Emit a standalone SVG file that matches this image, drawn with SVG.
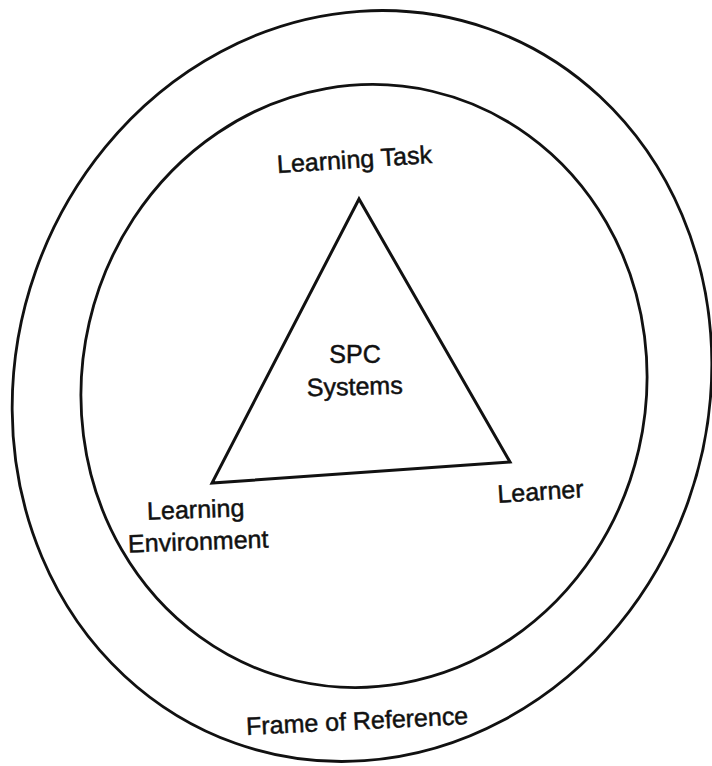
<svg xmlns="http://www.w3.org/2000/svg" width="712" height="766" viewBox="0 0 712 766">
  <style>
    .ring { fill: none; stroke: #111; stroke-width: 2.8; }
    .tri { fill: none; stroke: #111; stroke-width: 3; stroke-linejoin: miter; }
    .lbl { font-family: "Liberation Sans", Arial, Helvetica, sans-serif; font-size: 25px; fill: #111; stroke: #111; stroke-width: 0.5; text-anchor: middle; }
  </style>
  <rect width="712" height="766" fill="#fff"/>

  <!-- outer ring: frame of reference -->
  <g id="frame-of-reference">
    <ellipse class="ring" cx="362" cy="386" rx="346" ry="379" transform="rotate(19.5 362 386)"/>
    <text class="lbl" x="357.5" y="729.5" transform="rotate(-2.8 357.5 729.5)">Frame of Reference</text>
  </g>

  <!-- inner ring -->
  <g id="inner-ring">
    <ellipse class="ring" cx="364" cy="386" rx="282" ry="302.5" transform="rotate(13 364 386)"/>
  </g>

  <!-- central triangle -->
  <g id="spc-systems">
    <polygon class="tri" points="359,199 212,483 510,462"/>
    <text class="lbl" x="355" y="363">SPC</text>
    <text class="lbl" x="355" y="395" transform="rotate(-1.5 355 395)">Systems</text>
  </g>

  <g id="learning-task">
    <text class="lbl" x="355" y="168" transform="rotate(-3.7 355 168)">Learning Task</text>
  </g>

  <g id="learning-environment">
    <text class="lbl" x="196" y="518" transform="rotate(-2 196 518)">Learning</text>
    <text class="lbl" x="198.5" y="550" transform="rotate(-2 198.5 550)">Environment</text>
  </g>

  <g id="learner">
    <text class="lbl" x="541" y="500" transform="rotate(-3.7 541 500)">Learner</text>
  </g>
</svg>
